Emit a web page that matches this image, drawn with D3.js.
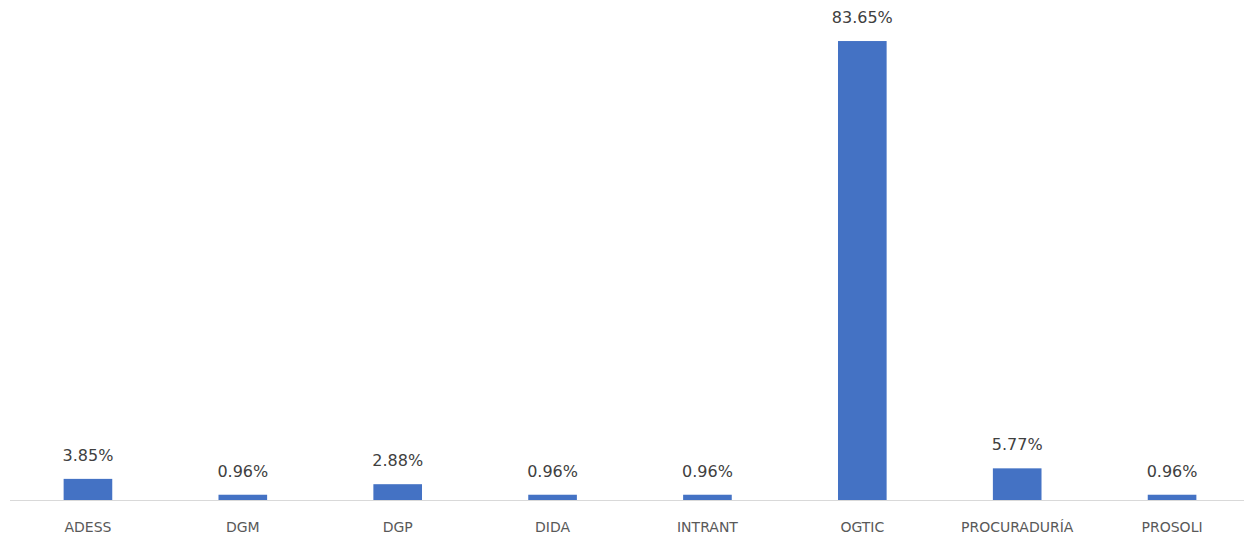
<!DOCTYPE html>
<html><head><meta charset="utf-8">
<script src="https://cdn.jsdelivr.net/npm/d3@7"></script>
<style>body{margin:0;background:#fff}svg{display:block}</style>
</head><body><svg id="c" width="1244" height="537"></svg>
<script>
const categories = ["ADESS","DGM","DGP","DIDA","INTRANT","OGTIC","PROCURADURÍA","PROSOLI"];
const values = [3.85, 0.96, 2.88, 0.96, 0.96, 83.65, 5.77, 0.96];
const valueLabels = ["3.85%","0.96%","2.88%","0.96%","0.96%","83.65%","5.77%","0.96%"];

const svg = d3.select("#c");
const font = "'DejaVu Sans', sans-serif";
const x = d3.scaleBand().domain(categories).range([10.5, 1249.5]).paddingInner(0.686).paddingOuter(0.343);
const y = d3.scaleLinear().domain([0, 90]).range([500, 6.2]);

svg.append("line").attr("x1",10).attr("x2",1244).attr("y1",500.5).attr("y2",500.5)
  .attr("stroke","#d9d9d9").attr("stroke-width",1);

svg.selectAll("rect.bar").data(values).enter().append("rect").attr("class","bar")
  .attr("x",(d,i)=>x(categories[i])).attr("width",x.bandwidth())
  .attr("y",d=>y(d)).attr("height",d=>y(0)-y(d)).attr("fill","#4472C4");

svg.selectAll("text.val").data(values).enter().append("text").attr("class","val")
  .attr("x",(d,i)=>x(categories[i])+x.bandwidth()/2).attr("y",d=>y(d)-18)
  .attr("text-anchor","middle").attr("font-family",font).attr("font-size",16)
  .attr("fill","#404040").text((d,i)=>valueLabels[i]);

const axis = d3.axisBottom(x).tickSize(0).tickPadding(0);
const g = svg.append("g").attr("transform","translate(0,500)").call(axis);
g.select(".domain").remove();
g.selectAll("text").attr("y",32).attr("dy",null).attr("font-family",font).attr("font-size",14)
  .attr("fill","#595959");
</script></body></html>
